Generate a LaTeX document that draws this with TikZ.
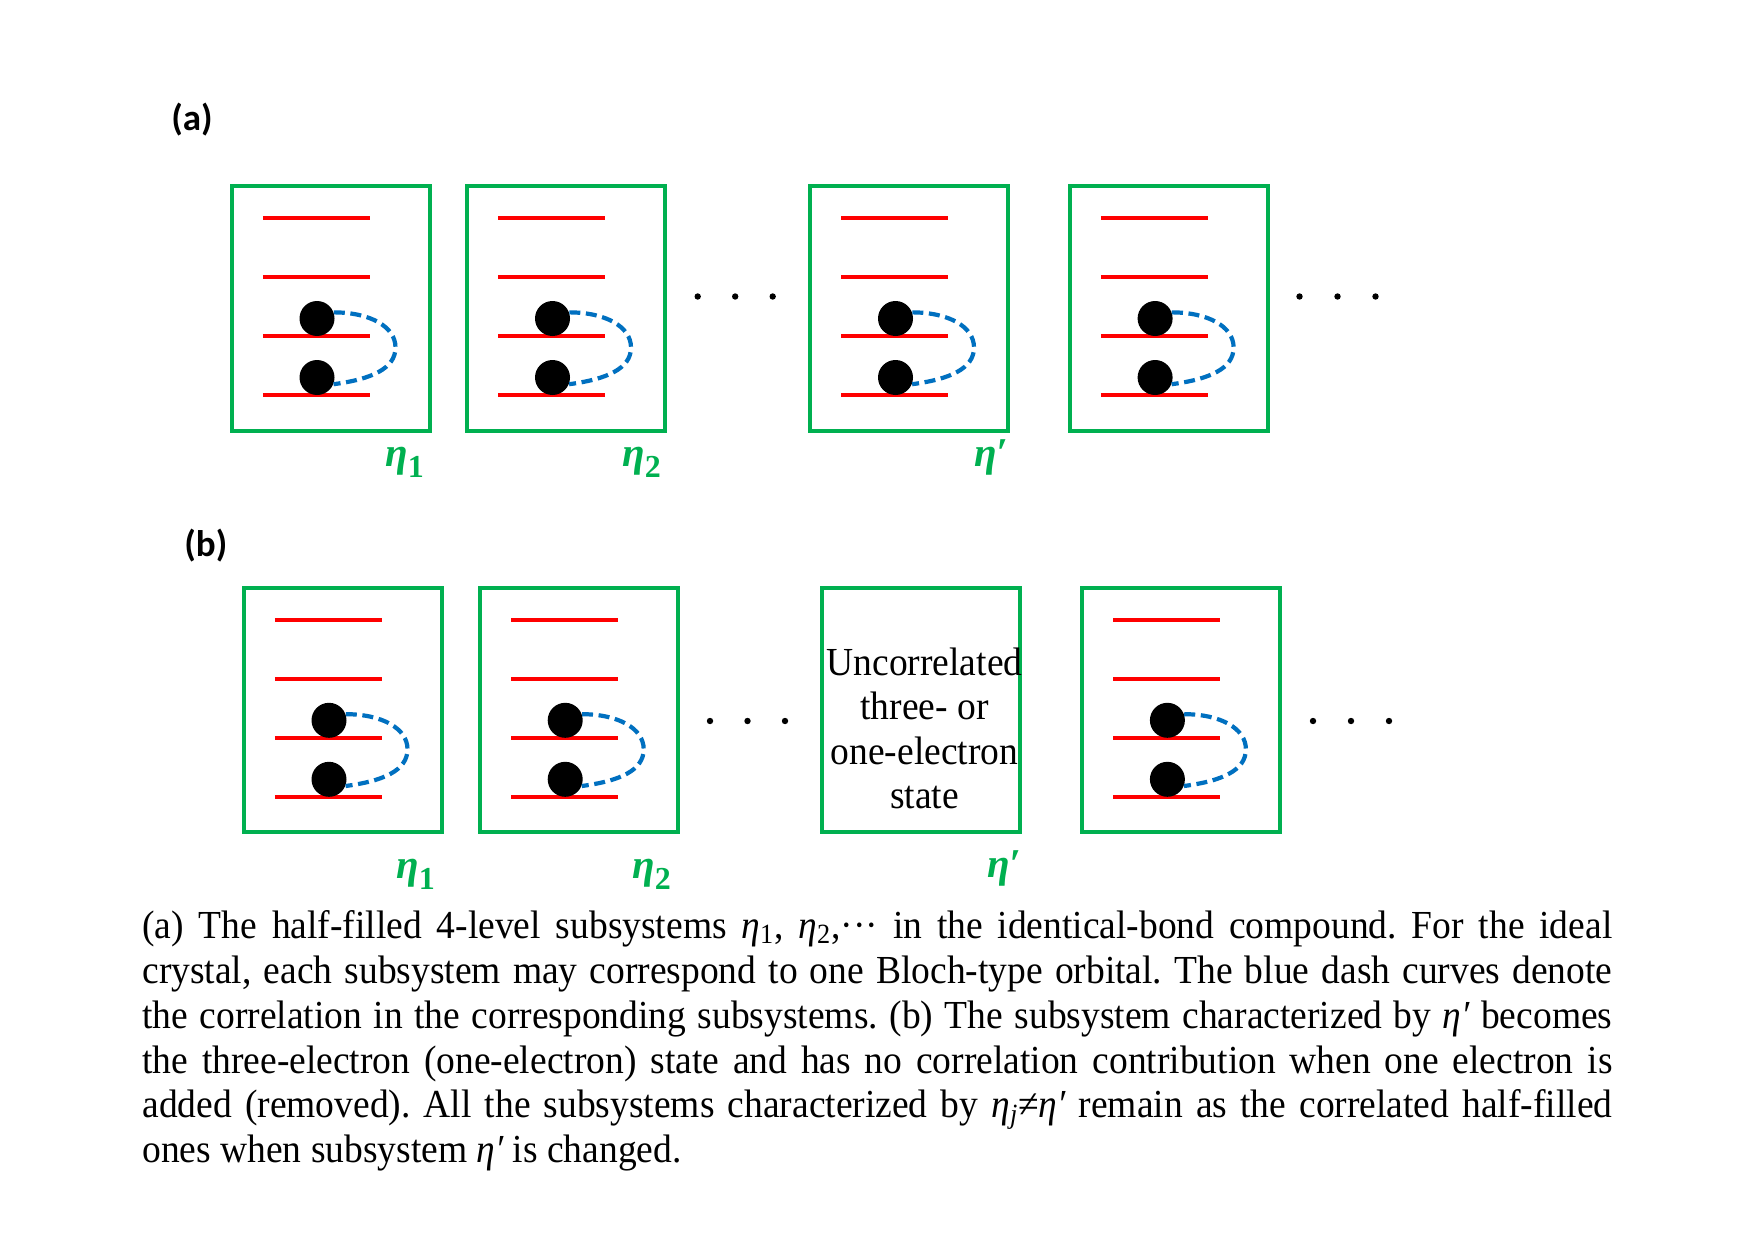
\documentclass[tikz,border=0pt]{standalone}
\usepackage{fontspec}
\setmainfont{Liberation Serif}
\newfontfamily\labfont{Carlito}
\definecolor{grn}{RGB}{0,176,80}
\definecolor{lvl}{RGB}{255,0,0}
\definecolor{corr}{RGB}{0,112,192}
\tikzset{
  sysbox/.style={draw=grn, line width=2pt, minimum width=99pt, minimum height=122pt, inner sep=0pt, anchor=north west},
  level/.style={draw=lvl, line width=1.7pt},
  elec/.style={circle, fill=black, minimum size=17.5pt, inner sep=0pt},
  corrline/.style={draw=corr, line width=2.1pt, dash pattern=on 5.5pt off 2.8pt},
  dotsty/.style={circle, fill=black, minimum size=3.2pt, inner sep=0pt},
  etalab/.style={text=grn, font=\fontsize{20.5pt}{24pt}\selectfont\bfseries\itshape, anchor=base west, inner sep=0pt},
  captxt/.style={font=\fontsize{18.75pt}{22.3pt}\selectfont, anchor=base west, inner sep=0pt},
  boxtxt/.style={font=\fontsize{18.75pt}{22.3pt}\selectfont, anchor=base, inner sep=0pt},
  panel/.style={font=\labfont\bfseries\fontsize{18.5pt}{21pt}\selectfont, anchor=base west, inner sep=0pt},
}
% #1 name, #2 outer left, #3 outer top (pixel units)
\newcommand\drawsys[3]{%
  \node[sysbox] (#1) at (#2+2,#3+2) {};
  \foreach \dy in {35.5,94.5,153.5,212.5}
    \draw[level] (#2+35.3,#3+\dy) -- (#2+142.3,#3+\dy);
  \node[elec] (#1u) at (#2+89.5,#3+136) {};
  \node[elec] (#1l) at (#2+89.5,#3+195) {};
  \coordinate (#1m) at (#2+168,#3+165);
  \draw[corrline] (#1u.20) .. controls +(36,0) and +(0,-21) .. (#1m)
                          .. controls +(0,21) and +(38,-5) .. (#1l.-22);
}
\newcommand\etasub[1]{η\raisebox{-5.5pt}{\upshape\fontsize{16pt}{16pt}\selectfont #1}}
\newcommand\ceta{{\itshape η}}
\newcommand\vs[1]{\scalebox{1}[1.06]{#1}}
\frenchspacing
\begin{document}
\begin{tikzpicture}[x=0.5pt,y=-0.5pt]
\fill[white] (0,0) rectangle (1755,1241);
\useasboundingbox (0,0) rectangle (1755,1241);

% panel labels
\node[panel] (pa) at (171,131) {(a)};
\node[panel] (pb) at (184,556) {(b)};

% row (a)
\drawsys{aA}{227.5}{182.5}
\drawsys{aB}{463}{182.5}
\drawsys{aC}{806}{182.5}
\drawsys{aD}{1065.6}{182.5}
\node[dotsty] (ea1) at (697.7,296.5) {};
\node[dotsty] (ea2) at (735.2,296.5) {};
\node[dotsty] (ea3) at (772.7,296.5) {};
\node[dotsty] (ea4) at (1299.5,296.5) {};
\node[dotsty] (ea5) at (1337.5,296.5) {};
\node[dotsty] (ea6) at (1375.5,296.5) {};
\node[etalab] (la1) at (385,466) {\etasub{1}};
\node[etalab] (la2) at (622,466) {\etasub{2}};
\node[etalab] (la3) at (974,466) {η′};

% row (b)
\drawsys{bA}{239.5}{584.3}
\drawsys{bB}{475.7}{584.3}
\node[sysbox] (bC) at (820.2,586.3) {};
\drawsys{bD}{1077.9}{584.3}
\node[boxtxt] (u1) at (924.5,675) {\vs{Uncorrelated}};
\node[boxtxt] (u2) at (924.5,719.5) {\vs{three- or}};
\node[boxtxt] (u3) at (924.5,764) {\vs{one-electron}};
\node[boxtxt] (u4) at (924.5,808.5) {\vs{state}};
\node[dotsty] (eb1) at (710,721) {};
\node[dotsty] (eb2) at (747.5,721) {};
\node[dotsty] (eb3) at (785,721) {};
\node[dotsty] (eb4) at (1313,721) {};
\node[dotsty] (eb5) at (1351,721) {};
\node[dotsty] (eb6) at (1389,721) {};
\node[etalab] (lb1) at (396,878) {\etasub{1}};
\node[etalab] (lb2) at (632,878) {\etasub{2}};
\node[etalab] (lb3) at (987,877) {η′};

% caption
\node[captxt] (c1) at (142,938) {\vs{\makebox[735pt][s]{(a) The half-filled 4-level subsystems \ceta\textsubscript{1}, \ceta\textsubscript{2},··· in the identical-bond compound. For the ideal}}};
\node[captxt] (c2) at (142,983) {\vs{\makebox[735pt][s]{crystal, each subsystem may correspond to one Bloch-type orbital. The blue dash curves denote}}};
\node[captxt] (c3) at (142,1028) {\vs{\makebox[735pt][s]{the correlation in the corresponding subsystems. (b) The subsystem characterized by {\itshape η′} becomes}}};
\node[captxt] (c4) at (142,1073) {\vs{\makebox[735pt][s]{the three-electron (one-electron) state and has no correlation contribution when one electron is}}};
\node[captxt] (c5) at (142,1117.5) {\vs{\makebox[735pt][s]{added (removed). All the subsystems characterized by \ceta\textsubscript{\itshape j}≠{\itshape η′} remain as the correlated half-filled}}};
\node[captxt] (c6) at (142,1162) {\vs{ones when subsystem {\itshape η′} is changed.}};
\end{tikzpicture}
\end{document}
